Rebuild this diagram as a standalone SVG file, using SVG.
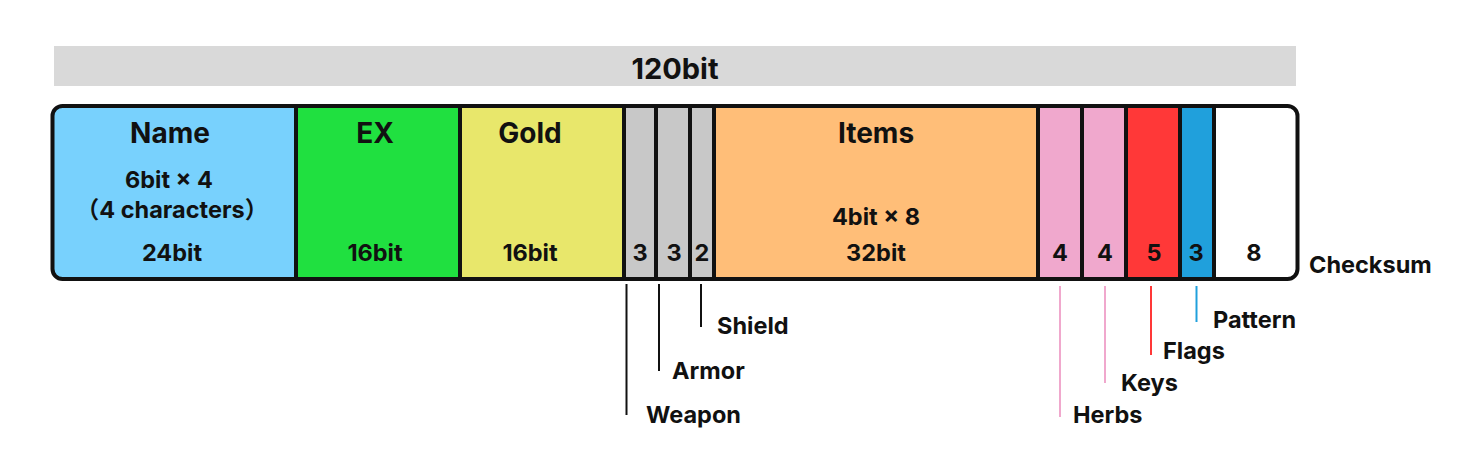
<svg xmlns="http://www.w3.org/2000/svg" width="1458" height="456" viewBox="0 0 1458 456">
<style>
text{font-family:Inter,"Noto Sans","Noto Sans CJK JP",sans-serif;font-weight:700;fill:#111}
.h{font-size:28px;text-anchor:middle}
.s{font-size:23.5px;text-anchor:middle}
.l{font-size:23.5px}
.div{stroke:#111;stroke-width:4}
.lead{stroke-width:2;fill:none}
</style>
<defs>
<clipPath id="frameClip"><rect x="52.5" y="106" width="1245" height="173" rx="10"/></clipPath>
</defs>
<g id="total">
<rect x="54" y="46" width="1242" height="40" fill="#d9d9d9"/>
<text class="h" x="675" y="79" style="font-size:29px">120bit</text>
</g>
<g id="fields" clip-path="url(#frameClip)">
<rect x="52" y="104" width="244" height="178" fill="#78d1fd"/>
<rect x="296" y="104" width="164" height="178" fill="#20e040"/>
<rect x="460" y="104" width="164" height="178" fill="#e8e76b"/>
<rect x="624" y="104" width="90" height="178" fill="#c8c8c8"/>
<rect x="714" y="104" width="324" height="178" fill="#ffbe78"/>
<rect x="1038" y="104" width="88" height="178" fill="#f0a8cd"/>
<rect x="1126" y="104" width="54" height="178" fill="#ff3838"/>
<rect x="1180" y="104" width="34" height="178" fill="#20a0dc"/>
<rect x="1214" y="104" width="86" height="178" fill="#ffffff"/>
</g>
<g id="dividers">
<line class="div" x1="296" y1="106" x2="296" y2="279"/>
<line class="div" x1="460" y1="106" x2="460" y2="279"/>
<line class="div" x1="624" y1="106" x2="624" y2="279"/>
<line class="div" x1="656" y1="106" x2="656" y2="279"/>
<line class="div" x1="690" y1="106" x2="690" y2="279"/>
<line class="div" x1="714" y1="106" x2="714" y2="279"/>
<line class="div" x1="1038" y1="106" x2="1038" y2="279"/>
<line class="div" x1="1082" y1="106" x2="1082" y2="279"/>
<line class="div" x1="1126" y1="106" x2="1126" y2="279"/>
<line class="div" x1="1180" y1="106" x2="1180" y2="279"/>
<line class="div" x1="1214" y1="106" x2="1214" y2="279"/>
<rect x="52.5" y="106" width="1245" height="173" rx="10" fill="none" stroke="#111" stroke-width="4"/>
</g>
<g id="name">
<text class="h" x="170" y="143">Name</text>
<text class="s" x="169" y="188">6bit × 4</text>
<text class="s" x="172" y="218">（4 characters）</text>
<text class="s" x="172" y="261">24bit</text>
</g>
<g id="ex">
<text class="h" x="375" y="143">EX</text>
<text class="s" x="375" y="261">16bit</text>
</g>
<g id="gold">
<text class="h" x="530" y="143">Gold</text>
<text class="s" x="530" y="261">16bit</text>
</g>
<g id="weapon">
<text class="s" x="640" y="261">3</text>
<line class="lead" stroke="#111" x1="626.5" y1="284" x2="626.5" y2="415"/>
<text class="l" x="646" y="423">Weapon</text>
</g>
<g id="armor">
<text class="s" x="674" y="261">3</text>
<line class="lead" stroke="#111" x1="659" y1="284" x2="659" y2="371"/>
<text class="l" x="672" y="379">Armor</text>
</g>
<g id="shield">
<text class="s" x="702" y="261">2</text>
<line class="lead" stroke="#111" x1="701" y1="284" x2="701" y2="327"/>
<text class="l" x="717" y="334">Shield</text>
</g>
<g id="items">
<text class="h" x="876" y="143">Items</text>
<text class="s" x="876" y="225">4bit × 8</text>
<text class="s" x="876" y="261">32bit</text>
</g>
<g id="herbs">
<text class="s" x="1060" y="261">4</text>
<line class="lead" stroke="#f0a8cd" x1="1060" y1="286" x2="1060" y2="417"/>
<text class="l" x="1073" y="423">Herbs</text>
</g>
<g id="keys">
<text class="s" x="1105" y="261">4</text>
<line class="lead" stroke="#f0a8cd" x1="1105" y1="286" x2="1105" y2="383"/>
<text class="l" x="1121" y="391">Keys</text>
</g>
<g id="flags">
<text class="s" x="1154" y="261">5</text>
<line class="lead" stroke="#ff3838" x1="1151" y1="286" x2="1151" y2="355"/>
<text class="l" x="1163" y="359">Flags</text>
</g>
<g id="pattern">
<text class="s" x="1196" y="261">3</text>
<line class="lead" stroke="#20a0dc" x1="1196.5" y1="286" x2="1196.5" y2="322"/>
<text class="l" x="1213" y="328">Pattern</text>
</g>
<g id="checksum">
<text class="s" x="1254" y="261">8</text>
<text class="l" x="1309" y="273">Checksum</text>
</g>
</svg>
